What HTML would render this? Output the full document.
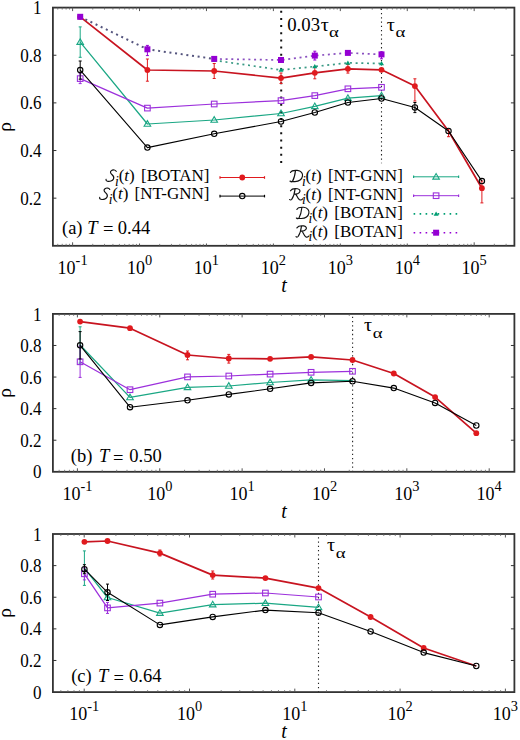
<!DOCTYPE html>
<html><head><meta charset="utf-8"><style>
html,body{margin:0;padding:0;background:#fff;overflow:hidden;}
svg{display:block;}
text{font-family:"Liberation Serif",serif;fill:#000;}
.tl{font-size:18px;}
.pl{font-size:18.5px;}
.lg{font-size:17px;}
.lsub{font-size:13.6px;}
.sup{font-size:14.4px;}
.sub{font-size:14.4px;}
.it{font-style:italic;}
.cal{font-style:italic;font-size:18px;}
.tlab{font-size:20px;font-style:italic;}
.rho{font-size:19.5px;}
.g{font-size:18px;}
.gs{font-size:14.4px;}
</style></head><body>
<svg width="520" height="740" viewBox="0 0 520 740">
<rect width="520" height="740" fill="#fff"/>
<line x1="281.2" y1="8.6" x2="281.2" y2="163.5" stroke="#111" stroke-width="2" stroke-dasharray="2,5.15" stroke-dashoffset="-2.2"/>
<line x1="381.5" y1="8.6" x2="381.5" y2="163.5" stroke="#222" stroke-width="1.1" stroke-dasharray="1.3,2.98" stroke-dashoffset="0"/>
<polyline points="80.2,16.8 147.4,70 214.2,71 281,78.1 314.8,72.8 347.9,68.8 381.5,69.8 414.9,86.1 448.5,131 481.9,188.2" fill="none" stroke="#c81420" stroke-width="1.7" stroke-linejoin="round"/>
<line x1="147.4" y1="59" x2="147.4" y2="81.2" stroke="#e01a1e" stroke-width="1"/>
<line x1="145.9" y1="59" x2="148.9" y2="59" stroke="#e01a1e" stroke-width="1"/>
<line x1="145.9" y1="81.2" x2="148.9" y2="81.2" stroke="#e01a1e" stroke-width="1"/>
<line x1="214.2" y1="63.5" x2="214.2" y2="78.5" stroke="#e01a1e" stroke-width="1"/>
<line x1="212.7" y1="63.5" x2="215.7" y2="63.5" stroke="#e01a1e" stroke-width="1"/>
<line x1="212.7" y1="78.5" x2="215.7" y2="78.5" stroke="#e01a1e" stroke-width="1"/>
<line x1="281" y1="73" x2="281" y2="83.5" stroke="#e01a1e" stroke-width="1"/>
<line x1="279.5" y1="73" x2="282.5" y2="73" stroke="#e01a1e" stroke-width="1"/>
<line x1="279.5" y1="83.5" x2="282.5" y2="83.5" stroke="#e01a1e" stroke-width="1"/>
<line x1="314.8" y1="66.8" x2="314.8" y2="78.8" stroke="#e01a1e" stroke-width="1"/>
<line x1="313.3" y1="66.8" x2="316.3" y2="66.8" stroke="#e01a1e" stroke-width="1"/>
<line x1="313.3" y1="78.8" x2="316.3" y2="78.8" stroke="#e01a1e" stroke-width="1"/>
<line x1="347.9" y1="64.5" x2="347.9" y2="73.1" stroke="#e01a1e" stroke-width="1"/>
<line x1="346.4" y1="64.5" x2="349.4" y2="64.5" stroke="#e01a1e" stroke-width="1"/>
<line x1="346.4" y1="73.1" x2="349.4" y2="73.1" stroke="#e01a1e" stroke-width="1"/>
<line x1="414.9" y1="78.8" x2="414.9" y2="101" stroke="#e01a1e" stroke-width="1"/>
<line x1="413.4" y1="78.8" x2="416.4" y2="78.8" stroke="#e01a1e" stroke-width="1"/>
<line x1="413.4" y1="101" x2="416.4" y2="101" stroke="#e01a1e" stroke-width="1"/>
<line x1="448.5" y1="129" x2="448.5" y2="136.7" stroke="#e01a1e" stroke-width="1"/>
<line x1="447.0" y1="129" x2="450.0" y2="129" stroke="#e01a1e" stroke-width="1"/>
<line x1="447.0" y1="136.7" x2="450.0" y2="136.7" stroke="#e01a1e" stroke-width="1"/>
<line x1="481.9" y1="181" x2="481.9" y2="202.9" stroke="#e01a1e" stroke-width="1"/>
<line x1="480.4" y1="181" x2="483.4" y2="181" stroke="#e01a1e" stroke-width="1"/>
<line x1="480.4" y1="202.9" x2="483.4" y2="202.9" stroke="#e01a1e" stroke-width="1"/>
<circle cx="80.2" cy="16.8" r="2.9" fill="#e01a1e"/>
<circle cx="147.4" cy="70" r="2.9" fill="#e01a1e"/>
<circle cx="214.2" cy="71" r="2.9" fill="#e01a1e"/>
<circle cx="281" cy="78.1" r="2.9" fill="#e01a1e"/>
<circle cx="314.8" cy="72.8" r="2.9" fill="#e01a1e"/>
<circle cx="347.9" cy="68.8" r="2.9" fill="#e01a1e"/>
<circle cx="381.5" cy="69.8" r="2.9" fill="#e01a1e"/>
<circle cx="414.9" cy="86.1" r="2.9" fill="#e01a1e"/>
<circle cx="481.9" cy="188.2" r="2.9" fill="#e01a1e"/>
<polyline points="80.2,42.1 147.4,124 214.2,120 281,113.5 314.8,106.3 347.9,98.1 381.5,95.6" fill="none" stroke="#1aa784" stroke-width="1.25" stroke-linejoin="round"/>
<line x1="80.2" y1="26.9" x2="80.2" y2="57.3" stroke="#1aa784" stroke-width="1"/>
<line x1="78.7" y1="26.9" x2="81.7" y2="26.9" stroke="#1aa784" stroke-width="1"/>
<line x1="78.7" y1="57.3" x2="81.7" y2="57.3" stroke="#1aa784" stroke-width="1"/>
<path d="M76.90,44.40 L83.50,44.40 L80.20,38.80 Z" fill="none" stroke="#1aa784" stroke-width="1.1"/>
<path d="M144.10,126.30 L150.70,126.30 L147.40,120.70 Z" fill="none" stroke="#1aa784" stroke-width="1.1"/>
<path d="M210.90,122.30 L217.50,122.30 L214.20,116.70 Z" fill="none" stroke="#1aa784" stroke-width="1.1"/>
<path d="M277.70,115.80 L284.30,115.80 L281.00,110.20 Z" fill="none" stroke="#1aa784" stroke-width="1.1"/>
<path d="M311.50,108.60 L318.10,108.60 L314.80,103.00 Z" fill="none" stroke="#1aa784" stroke-width="1.1"/>
<path d="M344.60,100.40 L351.20,100.40 L347.90,94.80 Z" fill="none" stroke="#1aa784" stroke-width="1.1"/>
<path d="M378.20,97.90 L384.80,97.90 L381.50,92.30 Z" fill="none" stroke="#1aa784" stroke-width="1.1"/>
<polyline points="80.2,78.6 147.4,108.1 214.2,104 281,100.6 314.8,95.6 347.9,88.8 381.5,87.3" fill="none" stroke="#9c30dc" stroke-width="1.25" stroke-linejoin="round"/>
<line x1="80.2" y1="73.6" x2="80.2" y2="83.6" stroke="#9c30dc" stroke-width="1"/>
<line x1="78.7" y1="73.6" x2="81.7" y2="73.6" stroke="#9c30dc" stroke-width="1"/>
<line x1="78.7" y1="83.6" x2="81.7" y2="83.6" stroke="#9c30dc" stroke-width="1"/>
<rect x="77.40" y="75.80" width="5.6" height="5.6" fill="none" stroke="#9c30dc" stroke-width="1.1"/>
<rect x="144.60" y="105.30" width="5.6" height="5.6" fill="none" stroke="#9c30dc" stroke-width="1.1"/>
<rect x="211.40" y="101.20" width="5.6" height="5.6" fill="none" stroke="#9c30dc" stroke-width="1.1"/>
<rect x="278.20" y="97.80" width="5.6" height="5.6" fill="none" stroke="#9c30dc" stroke-width="1.1"/>
<rect x="312.00" y="92.80" width="5.6" height="5.6" fill="none" stroke="#9c30dc" stroke-width="1.1"/>
<rect x="345.10" y="86.00" width="5.6" height="5.6" fill="none" stroke="#9c30dc" stroke-width="1.1"/>
<rect x="378.70" y="84.50" width="5.6" height="5.6" fill="none" stroke="#9c30dc" stroke-width="1.1"/>
<polyline points="80.2,70.1 147.4,147.6 214.2,133.8 281,121.5 314.8,112.5 347.9,102.5 381.5,98.5 414.9,107.5 448.5,131 481.9,181.1" fill="none" stroke="#000000" stroke-width="1.1" stroke-linejoin="round"/>
<line x1="80.2" y1="61" x2="80.2" y2="79.2" stroke="#000000" stroke-width="1"/>
<line x1="78.7" y1="61" x2="81.7" y2="61" stroke="#000000" stroke-width="1"/>
<line x1="78.7" y1="79.2" x2="81.7" y2="79.2" stroke="#000000" stroke-width="1"/>
<line x1="414.9" y1="102.5" x2="414.9" y2="112.6" stroke="#000000" stroke-width="1"/>
<line x1="413.4" y1="102.5" x2="416.4" y2="102.5" stroke="#000000" stroke-width="1"/>
<line x1="413.4" y1="112.6" x2="416.4" y2="112.6" stroke="#000000" stroke-width="1"/>
<circle cx="80.2" cy="70.1" r="2.7" fill="none" stroke="#000000" stroke-width="1.1"/>
<circle cx="147.4" cy="147.6" r="2.7" fill="none" stroke="#000000" stroke-width="1.1"/>
<circle cx="214.2" cy="133.8" r="2.7" fill="none" stroke="#000000" stroke-width="1.1"/>
<circle cx="281" cy="121.5" r="2.7" fill="none" stroke="#000000" stroke-width="1.1"/>
<circle cx="314.8" cy="112.5" r="2.7" fill="none" stroke="#000000" stroke-width="1.1"/>
<circle cx="347.9" cy="102.5" r="2.7" fill="none" stroke="#000000" stroke-width="1.1"/>
<circle cx="381.5" cy="98.5" r="2.7" fill="none" stroke="#000000" stroke-width="1.1"/>
<circle cx="414.9" cy="107.5" r="2.7" fill="none" stroke="#000000" stroke-width="1.1"/>
<circle cx="448.5" cy="131" r="2.7" fill="none" stroke="#000000" stroke-width="1.1"/>
<circle cx="481.9" cy="181.1" r="2.7" fill="none" stroke="#000000" stroke-width="1.1"/>
<polyline points="80.2,16.8 147.4,49.3 214.2,58.9" fill="none" stroke="#55557e" stroke-width="2" stroke-dasharray="2,3.7" stroke-dashoffset="0"/>
<polyline points="214.2,60.3 281,70 314.8,66.5 347.9,62.9 381.5,63.5" fill="none" stroke="#3a9a85" stroke-width="1.7" stroke-dasharray="2,3.7" stroke-dashoffset="0"/>
<polyline points="214.2,58.9 281,60 314.8,55.6 347.9,52.9 381.5,54.4" fill="none" stroke="#8a50c0" stroke-width="1.7" stroke-dasharray="2,3.7" stroke-dashoffset="0"/>
<path d="M77.70,18.60 L82.70,18.60 L80.20,14.40 Z" fill="#009e73"/>
<path d="M144.90,51.30 L149.90,51.30 L147.40,47.10 Z" fill="#009e73"/>
<path d="M211.70,62.10 L216.70,62.10 L214.20,57.90 Z" fill="#009e73"/>
<path d="M278.50,71.80 L283.50,71.80 L281.00,67.60 Z" fill="#009e73"/>
<path d="M312.30,68.30 L317.30,68.30 L314.80,64.10 Z" fill="#009e73"/>
<path d="M345.40,64.70 L350.40,64.70 L347.90,60.50 Z" fill="#009e73"/>
<path d="M379.00,65.30 L384.00,65.30 L381.50,61.10 Z" fill="#009e73"/>
<line x1="147.4" y1="45.4" x2="147.4" y2="55.6" stroke="#9400d3" stroke-width="1"/>
<line x1="145.9" y1="45.4" x2="148.9" y2="45.4" stroke="#9400d3" stroke-width="1"/>
<line x1="145.9" y1="55.6" x2="148.9" y2="55.6" stroke="#9400d3" stroke-width="1"/>
<line x1="314.8" y1="51.2" x2="314.8" y2="60" stroke="#9400d3" stroke-width="1"/>
<line x1="313.3" y1="51.2" x2="316.3" y2="51.2" stroke="#9400d3" stroke-width="1"/>
<line x1="313.3" y1="60" x2="316.3" y2="60" stroke="#9400d3" stroke-width="1"/>
<line x1="381.5" y1="51.9" x2="381.5" y2="58.8" stroke="#9400d3" stroke-width="1"/>
<line x1="380.0" y1="51.9" x2="383.0" y2="51.9" stroke="#9400d3" stroke-width="1"/>
<line x1="380.0" y1="58.8" x2="383.0" y2="58.8" stroke="#9400d3" stroke-width="1"/>
<rect x="77.20" y="13.80" width="6" height="6" fill="#9400d3"/>
<rect x="144.40" y="46.30" width="6" height="6" fill="#9400d3"/>
<rect x="211.20" y="55.90" width="6" height="6" fill="#9400d3"/>
<rect x="278.00" y="57.00" width="6" height="6" fill="#9400d3"/>
<rect x="311.80" y="52.60" width="6" height="6" fill="#9400d3"/>
<rect x="344.90" y="49.90" width="6" height="6" fill="#9400d3"/>
<rect x="378.50" y="51.40" width="6" height="6" fill="#9400d3"/>
<rect x="52.9" y="7.6" width="461.5" height="238.20000000000002" fill="none" stroke="#333" stroke-width="1.8"/>
<line x1="52.9" y1="198.16" x2="56.4" y2="198.16" stroke="#333" stroke-width="1"/>
<line x1="514.4" y1="198.16" x2="510.9" y2="198.16" stroke="#333" stroke-width="1"/>
<text transform="translate(41.60,204.76) scale(0.95,1)" class="tl" text-anchor="end">0.2</text>
<line x1="52.9" y1="150.52" x2="56.4" y2="150.52" stroke="#333" stroke-width="1"/>
<line x1="514.4" y1="150.52" x2="510.9" y2="150.52" stroke="#333" stroke-width="1"/>
<text transform="translate(41.60,157.12) scale(0.95,1)" class="tl" text-anchor="end">0.4</text>
<line x1="52.9" y1="102.88" x2="56.4" y2="102.88" stroke="#333" stroke-width="1"/>
<line x1="514.4" y1="102.88" x2="510.9" y2="102.88" stroke="#333" stroke-width="1"/>
<text transform="translate(41.60,109.48) scale(0.95,1)" class="tl" text-anchor="end">0.6</text>
<line x1="52.9" y1="55.24" x2="56.4" y2="55.24" stroke="#333" stroke-width="1"/>
<line x1="514.4" y1="55.24" x2="510.9" y2="55.24" stroke="#333" stroke-width="1"/>
<text transform="translate(41.60,61.84) scale(0.95,1)" class="tl" text-anchor="end">0.8</text>
<text transform="translate(41.60,14.20) scale(0.95,1)" class="tl" text-anchor="end">1</text>
<line x1="57.75" y1="245.8" x2="57.75" y2="243.8" stroke="#666" stroke-width="0.8"/>
<line x1="57.75" y1="7.6" x2="57.75" y2="9.6" stroke="#666" stroke-width="0.8"/>
<line x1="62.23" y1="245.8" x2="62.23" y2="243.8" stroke="#666" stroke-width="0.8"/>
<line x1="62.23" y1="7.6" x2="62.23" y2="9.6" stroke="#666" stroke-width="0.8"/>
<line x1="66.11" y1="245.8" x2="66.11" y2="243.8" stroke="#666" stroke-width="0.8"/>
<line x1="66.11" y1="7.6" x2="66.11" y2="9.6" stroke="#666" stroke-width="0.8"/>
<line x1="69.54" y1="245.8" x2="69.54" y2="243.8" stroke="#666" stroke-width="0.8"/>
<line x1="69.54" y1="7.6" x2="69.54" y2="9.6" stroke="#666" stroke-width="0.8"/>
<line x1="72.60" y1="245.8" x2="72.60" y2="242.3" stroke="#555" stroke-width="1"/>
<line x1="72.60" y1="7.6" x2="72.60" y2="11.1" stroke="#555" stroke-width="1"/>
<line x1="92.75" y1="245.8" x2="92.75" y2="243.8" stroke="#666" stroke-width="0.8"/>
<line x1="92.75" y1="7.6" x2="92.75" y2="9.6" stroke="#666" stroke-width="0.8"/>
<line x1="104.53" y1="245.8" x2="104.53" y2="243.8" stroke="#666" stroke-width="0.8"/>
<line x1="104.53" y1="7.6" x2="104.53" y2="9.6" stroke="#666" stroke-width="0.8"/>
<line x1="112.90" y1="245.8" x2="112.90" y2="243.8" stroke="#666" stroke-width="0.8"/>
<line x1="112.90" y1="7.6" x2="112.90" y2="9.6" stroke="#666" stroke-width="0.8"/>
<line x1="119.38" y1="245.8" x2="119.38" y2="243.8" stroke="#666" stroke-width="0.8"/>
<line x1="119.38" y1="7.6" x2="119.38" y2="9.6" stroke="#666" stroke-width="0.8"/>
<line x1="124.68" y1="245.8" x2="124.68" y2="243.8" stroke="#666" stroke-width="0.8"/>
<line x1="124.68" y1="7.6" x2="124.68" y2="9.6" stroke="#666" stroke-width="0.8"/>
<line x1="129.16" y1="245.8" x2="129.16" y2="243.8" stroke="#666" stroke-width="0.8"/>
<line x1="129.16" y1="7.6" x2="129.16" y2="9.6" stroke="#666" stroke-width="0.8"/>
<line x1="133.04" y1="245.8" x2="133.04" y2="243.8" stroke="#666" stroke-width="0.8"/>
<line x1="133.04" y1="7.6" x2="133.04" y2="9.6" stroke="#666" stroke-width="0.8"/>
<line x1="136.47" y1="245.8" x2="136.47" y2="243.8" stroke="#666" stroke-width="0.8"/>
<line x1="136.47" y1="7.6" x2="136.47" y2="9.6" stroke="#666" stroke-width="0.8"/>
<line x1="139.53" y1="245.8" x2="139.53" y2="242.3" stroke="#555" stroke-width="1"/>
<line x1="139.53" y1="7.6" x2="139.53" y2="11.1" stroke="#555" stroke-width="1"/>
<line x1="159.68" y1="245.8" x2="159.68" y2="243.8" stroke="#666" stroke-width="0.8"/>
<line x1="159.68" y1="7.6" x2="159.68" y2="9.6" stroke="#666" stroke-width="0.8"/>
<line x1="171.46" y1="245.8" x2="171.46" y2="243.8" stroke="#666" stroke-width="0.8"/>
<line x1="171.46" y1="7.6" x2="171.46" y2="9.6" stroke="#666" stroke-width="0.8"/>
<line x1="179.83" y1="245.8" x2="179.83" y2="243.8" stroke="#666" stroke-width="0.8"/>
<line x1="179.83" y1="7.6" x2="179.83" y2="9.6" stroke="#666" stroke-width="0.8"/>
<line x1="186.31" y1="245.8" x2="186.31" y2="243.8" stroke="#666" stroke-width="0.8"/>
<line x1="186.31" y1="7.6" x2="186.31" y2="9.6" stroke="#666" stroke-width="0.8"/>
<line x1="191.61" y1="245.8" x2="191.61" y2="243.8" stroke="#666" stroke-width="0.8"/>
<line x1="191.61" y1="7.6" x2="191.61" y2="9.6" stroke="#666" stroke-width="0.8"/>
<line x1="196.09" y1="245.8" x2="196.09" y2="243.8" stroke="#666" stroke-width="0.8"/>
<line x1="196.09" y1="7.6" x2="196.09" y2="9.6" stroke="#666" stroke-width="0.8"/>
<line x1="199.97" y1="245.8" x2="199.97" y2="243.8" stroke="#666" stroke-width="0.8"/>
<line x1="199.97" y1="7.6" x2="199.97" y2="9.6" stroke="#666" stroke-width="0.8"/>
<line x1="203.40" y1="245.8" x2="203.40" y2="243.8" stroke="#666" stroke-width="0.8"/>
<line x1="203.40" y1="7.6" x2="203.40" y2="9.6" stroke="#666" stroke-width="0.8"/>
<line x1="206.46" y1="245.8" x2="206.46" y2="242.3" stroke="#555" stroke-width="1"/>
<line x1="206.46" y1="7.6" x2="206.46" y2="11.1" stroke="#555" stroke-width="1"/>
<line x1="226.61" y1="245.8" x2="226.61" y2="243.8" stroke="#666" stroke-width="0.8"/>
<line x1="226.61" y1="7.6" x2="226.61" y2="9.6" stroke="#666" stroke-width="0.8"/>
<line x1="238.39" y1="245.8" x2="238.39" y2="243.8" stroke="#666" stroke-width="0.8"/>
<line x1="238.39" y1="7.6" x2="238.39" y2="9.6" stroke="#666" stroke-width="0.8"/>
<line x1="246.76" y1="245.8" x2="246.76" y2="243.8" stroke="#666" stroke-width="0.8"/>
<line x1="246.76" y1="7.6" x2="246.76" y2="9.6" stroke="#666" stroke-width="0.8"/>
<line x1="253.24" y1="245.8" x2="253.24" y2="243.8" stroke="#666" stroke-width="0.8"/>
<line x1="253.24" y1="7.6" x2="253.24" y2="9.6" stroke="#666" stroke-width="0.8"/>
<line x1="258.54" y1="245.8" x2="258.54" y2="243.8" stroke="#666" stroke-width="0.8"/>
<line x1="258.54" y1="7.6" x2="258.54" y2="9.6" stroke="#666" stroke-width="0.8"/>
<line x1="263.02" y1="245.8" x2="263.02" y2="243.8" stroke="#666" stroke-width="0.8"/>
<line x1="263.02" y1="7.6" x2="263.02" y2="9.6" stroke="#666" stroke-width="0.8"/>
<line x1="266.90" y1="245.8" x2="266.90" y2="243.8" stroke="#666" stroke-width="0.8"/>
<line x1="266.90" y1="7.6" x2="266.90" y2="9.6" stroke="#666" stroke-width="0.8"/>
<line x1="270.33" y1="245.8" x2="270.33" y2="243.8" stroke="#666" stroke-width="0.8"/>
<line x1="270.33" y1="7.6" x2="270.33" y2="9.6" stroke="#666" stroke-width="0.8"/>
<line x1="273.39" y1="245.8" x2="273.39" y2="242.3" stroke="#555" stroke-width="1"/>
<line x1="273.39" y1="7.6" x2="273.39" y2="11.1" stroke="#555" stroke-width="1"/>
<line x1="293.54" y1="245.8" x2="293.54" y2="243.8" stroke="#666" stroke-width="0.8"/>
<line x1="293.54" y1="7.6" x2="293.54" y2="9.6" stroke="#666" stroke-width="0.8"/>
<line x1="305.32" y1="245.8" x2="305.32" y2="243.8" stroke="#666" stroke-width="0.8"/>
<line x1="305.32" y1="7.6" x2="305.32" y2="9.6" stroke="#666" stroke-width="0.8"/>
<line x1="313.69" y1="245.8" x2="313.69" y2="243.8" stroke="#666" stroke-width="0.8"/>
<line x1="313.69" y1="7.6" x2="313.69" y2="9.6" stroke="#666" stroke-width="0.8"/>
<line x1="320.17" y1="245.8" x2="320.17" y2="243.8" stroke="#666" stroke-width="0.8"/>
<line x1="320.17" y1="7.6" x2="320.17" y2="9.6" stroke="#666" stroke-width="0.8"/>
<line x1="325.47" y1="245.8" x2="325.47" y2="243.8" stroke="#666" stroke-width="0.8"/>
<line x1="325.47" y1="7.6" x2="325.47" y2="9.6" stroke="#666" stroke-width="0.8"/>
<line x1="329.95" y1="245.8" x2="329.95" y2="243.8" stroke="#666" stroke-width="0.8"/>
<line x1="329.95" y1="7.6" x2="329.95" y2="9.6" stroke="#666" stroke-width="0.8"/>
<line x1="333.83" y1="245.8" x2="333.83" y2="243.8" stroke="#666" stroke-width="0.8"/>
<line x1="333.83" y1="7.6" x2="333.83" y2="9.6" stroke="#666" stroke-width="0.8"/>
<line x1="337.26" y1="245.8" x2="337.26" y2="243.8" stroke="#666" stroke-width="0.8"/>
<line x1="337.26" y1="7.6" x2="337.26" y2="9.6" stroke="#666" stroke-width="0.8"/>
<line x1="340.32" y1="245.8" x2="340.32" y2="242.3" stroke="#555" stroke-width="1"/>
<line x1="340.32" y1="7.6" x2="340.32" y2="11.1" stroke="#555" stroke-width="1"/>
<line x1="360.47" y1="245.8" x2="360.47" y2="243.8" stroke="#666" stroke-width="0.8"/>
<line x1="360.47" y1="7.6" x2="360.47" y2="9.6" stroke="#666" stroke-width="0.8"/>
<line x1="372.25" y1="245.8" x2="372.25" y2="243.8" stroke="#666" stroke-width="0.8"/>
<line x1="372.25" y1="7.6" x2="372.25" y2="9.6" stroke="#666" stroke-width="0.8"/>
<line x1="380.62" y1="245.8" x2="380.62" y2="243.8" stroke="#666" stroke-width="0.8"/>
<line x1="380.62" y1="7.6" x2="380.62" y2="9.6" stroke="#666" stroke-width="0.8"/>
<line x1="387.10" y1="245.8" x2="387.10" y2="243.8" stroke="#666" stroke-width="0.8"/>
<line x1="387.10" y1="7.6" x2="387.10" y2="9.6" stroke="#666" stroke-width="0.8"/>
<line x1="392.40" y1="245.8" x2="392.40" y2="243.8" stroke="#666" stroke-width="0.8"/>
<line x1="392.40" y1="7.6" x2="392.40" y2="9.6" stroke="#666" stroke-width="0.8"/>
<line x1="396.88" y1="245.8" x2="396.88" y2="243.8" stroke="#666" stroke-width="0.8"/>
<line x1="396.88" y1="7.6" x2="396.88" y2="9.6" stroke="#666" stroke-width="0.8"/>
<line x1="400.76" y1="245.8" x2="400.76" y2="243.8" stroke="#666" stroke-width="0.8"/>
<line x1="400.76" y1="7.6" x2="400.76" y2="9.6" stroke="#666" stroke-width="0.8"/>
<line x1="404.19" y1="245.8" x2="404.19" y2="243.8" stroke="#666" stroke-width="0.8"/>
<line x1="404.19" y1="7.6" x2="404.19" y2="9.6" stroke="#666" stroke-width="0.8"/>
<line x1="407.25" y1="245.8" x2="407.25" y2="242.3" stroke="#555" stroke-width="1"/>
<line x1="407.25" y1="7.6" x2="407.25" y2="11.1" stroke="#555" stroke-width="1"/>
<line x1="427.40" y1="245.8" x2="427.40" y2="243.8" stroke="#666" stroke-width="0.8"/>
<line x1="427.40" y1="7.6" x2="427.40" y2="9.6" stroke="#666" stroke-width="0.8"/>
<line x1="439.18" y1="245.8" x2="439.18" y2="243.8" stroke="#666" stroke-width="0.8"/>
<line x1="439.18" y1="7.6" x2="439.18" y2="9.6" stroke="#666" stroke-width="0.8"/>
<line x1="447.55" y1="245.8" x2="447.55" y2="243.8" stroke="#666" stroke-width="0.8"/>
<line x1="447.55" y1="7.6" x2="447.55" y2="9.6" stroke="#666" stroke-width="0.8"/>
<line x1="454.03" y1="245.8" x2="454.03" y2="243.8" stroke="#666" stroke-width="0.8"/>
<line x1="454.03" y1="7.6" x2="454.03" y2="9.6" stroke="#666" stroke-width="0.8"/>
<line x1="459.33" y1="245.8" x2="459.33" y2="243.8" stroke="#666" stroke-width="0.8"/>
<line x1="459.33" y1="7.6" x2="459.33" y2="9.6" stroke="#666" stroke-width="0.8"/>
<line x1="463.81" y1="245.8" x2="463.81" y2="243.8" stroke="#666" stroke-width="0.8"/>
<line x1="463.81" y1="7.6" x2="463.81" y2="9.6" stroke="#666" stroke-width="0.8"/>
<line x1="467.69" y1="245.8" x2="467.69" y2="243.8" stroke="#666" stroke-width="0.8"/>
<line x1="467.69" y1="7.6" x2="467.69" y2="9.6" stroke="#666" stroke-width="0.8"/>
<line x1="471.12" y1="245.8" x2="471.12" y2="243.8" stroke="#666" stroke-width="0.8"/>
<line x1="471.12" y1="7.6" x2="471.12" y2="9.6" stroke="#666" stroke-width="0.8"/>
<line x1="474.18" y1="245.8" x2="474.18" y2="242.3" stroke="#555" stroke-width="1"/>
<line x1="474.18" y1="7.6" x2="474.18" y2="11.1" stroke="#555" stroke-width="1"/>
<line x1="494.33" y1="245.8" x2="494.33" y2="243.8" stroke="#666" stroke-width="0.8"/>
<line x1="494.33" y1="7.6" x2="494.33" y2="9.6" stroke="#666" stroke-width="0.8"/>
<line x1="506.11" y1="245.8" x2="506.11" y2="243.8" stroke="#666" stroke-width="0.8"/>
<line x1="506.11" y1="7.6" x2="506.11" y2="9.6" stroke="#666" stroke-width="0.8"/>
<text x="72.60" y="273.8" class="tl" text-anchor="middle">10<tspan class="sup" dy="-9.3">-1</tspan></text>
<text x="139.53" y="273.8" class="tl" text-anchor="middle">10<tspan class="sup" dy="-9.3">0</tspan></text>
<text x="206.46" y="273.8" class="tl" text-anchor="middle">10<tspan class="sup" dy="-9.3">1</tspan></text>
<text x="273.39" y="273.8" class="tl" text-anchor="middle">10<tspan class="sup" dy="-9.3">2</tspan></text>
<text x="340.32" y="273.8" class="tl" text-anchor="middle">10<tspan class="sup" dy="-9.3">3</tspan></text>
<text x="407.25" y="273.8" class="tl" text-anchor="middle">10<tspan class="sup" dy="-9.3">4</tspan></text>
<text x="474.18" y="273.8" class="tl" text-anchor="middle">10<tspan class="sup" dy="-9.3">5</tspan></text>
<text x="287.2" y="30.6" class="tl" style="font-size:18.8px">0.03</text>
<text transform="translate(320.70,30.60) scale(1.12,1)" class="g">τ</text>
<text transform="translate(328.90,37.00) scale(1.3,1)" class="gs">α</text>
<text transform="translate(386.70,30.80) scale(1.12,1)" class="g">τ</text>
<text transform="translate(395.50,37.20) scale(1.3,1)" class="gs">α</text>
<text x="281.3" y="292" class="tlab">t</text>
<text transform="translate(11.3,127) rotate(-90)" class="rho" text-anchor="middle">ρ</text>
<rect x="93" y="163.5" width="371" height="80" fill="#fff"/>
<text x="209.5" y="181.3" class="lg" text-anchor="end">(<tspan class="it">t</tspan>)<tspan dx="2"> [BOTAN]</tspan></text>
<text x="115.09" y="185.8" class="lsub it">i</text>
<path transform="translate(105.59,181.60000000000002)" d="M10.6,-10.2 C10.2,-11.6 7.4,-12.2 5.8,-11 C4.3,-9.9 4.8,-8.3 6.3,-7.1 C7.9,-5.8 8.7,-4.3 7.9,-2.6 C7,-0.7 4,0.2 1.8,-0.4 C0.7,-0.7 0.2,-1.4 0.5,-2.3" fill="none" stroke="#111" stroke-width="1.15" stroke-linecap="round"/>
<line x1="220" y1="177.5" x2="264.5" y2="177.5" stroke="#e01a1e" stroke-width="1.0"/>
<line x1="220" y1="176.2" x2="220" y2="178.8" stroke="#e01a1e" stroke-width="1.2"/>
<line x1="264.5" y1="176.2" x2="264.5" y2="178.8" stroke="#e01a1e" stroke-width="1.2"/>
<circle cx="242.25" cy="177.5" r="2.9" fill="#e01a1e"/>
<text x="209.5" y="199.4" class="lg" text-anchor="end">(<tspan class="it">t</tspan>)<tspan dx="2"> [NT-GNN]</tspan></text>
<text x="108.69" y="203.9" class="lsub it">i</text>
<path transform="translate(99.19,199.70000000000002)" d="M10.6,-10.2 C10.2,-11.6 7.4,-12.2 5.8,-11 C4.3,-9.9 4.8,-8.3 6.3,-7.1 C7.9,-5.8 8.7,-4.3 7.9,-2.6 C7,-0.7 4,0.2 1.8,-0.4 C0.7,-0.7 0.2,-1.4 0.5,-2.3" fill="none" stroke="#111" stroke-width="1.15" stroke-linecap="round"/>
<line x1="220" y1="196.1" x2="264.5" y2="196.1" stroke="#000000" stroke-width="1.0"/>
<line x1="220" y1="194.79999999999998" x2="220" y2="197.4" stroke="#000000" stroke-width="1.2"/>
<line x1="264.5" y1="194.79999999999998" x2="264.5" y2="197.4" stroke="#000000" stroke-width="1.2"/>
<circle cx="242.25" cy="196.1" r="2.7" fill="none" stroke="#000000" stroke-width="1.1"/>
<text x="402.8" y="181.4" class="lg" text-anchor="end">(<tspan class="it">t</tspan>)<tspan dx="2"> [NT-GNN]</tspan></text>
<text x="301.99" y="185.9" class="lsub it">i</text>
<path transform="translate(289.69,181.70000000000002)" d="M0.8,-9.2 C1.6,-11 4.5,-11.5 7.5,-11.3 C11.5,-11 13.3,-8.3 12.8,-5.5 C12.2,-2.3 9.2,-0.2 5.2,-0.1 C3.5,0 1.6,-0.1 0.3,-0.6 M5.8,-11.1 C5.4,-7.5 4.6,-3.5 2.8,-0.4 C2.2,0.3 1.2,0.2 0.5,-0.3" fill="none" stroke="#111" stroke-width="1.15" stroke-linecap="round"/>
<line x1="413.6" y1="176.8" x2="458.6" y2="176.8" stroke="#1aa784" stroke-width="1.0"/>
<line x1="413.6" y1="175.5" x2="413.6" y2="178.10000000000002" stroke="#1aa784" stroke-width="1.2"/>
<line x1="458.6" y1="175.5" x2="458.6" y2="178.10000000000002" stroke="#1aa784" stroke-width="1.2"/>
<path d="M432.80,179.10 L439.40,179.10 L436.10,173.50 Z" fill="none" stroke="#1aa784" stroke-width="1.1"/>
<text x="402.8" y="199.7" class="lg" text-anchor="end">(<tspan class="it">t</tspan>)<tspan dx="2"> [NT-GNN]</tspan></text>
<text x="301.99" y="204.2" class="lsub it">i</text>
<path transform="translate(289.29,200.0)" d="M1.2,-9.2 C2.3,-11 5.5,-11.6 8.2,-11.2 C10.8,-10.8 11.3,-8.8 10,-7.4 C8.8,-6.1 6.8,-5.8 5,-6 M5.8,-11.1 C5.4,-7.5 4.4,-3.5 2.4,-0.6 C1.8,0.2 0.8,0.1 0.3,-0.5 M6.3,-6 C7.6,-4.5 8.3,-1.5 10,-0.4 C11.2,0.3 12.6,-0.2 13.4,-1.2" fill="none" stroke="#111" stroke-width="1.15" stroke-linecap="round"/>
<line x1="413.6" y1="195.7" x2="458.6" y2="195.7" stroke="#9c30dc" stroke-width="1.0"/>
<line x1="413.6" y1="194.39999999999998" x2="413.6" y2="197.0" stroke="#9c30dc" stroke-width="1.2"/>
<line x1="458.6" y1="194.39999999999998" x2="458.6" y2="197.0" stroke="#9c30dc" stroke-width="1.2"/>
<rect x="433.30" y="192.90" width="5.6" height="5.6" fill="none" stroke="#9c30dc" stroke-width="1.1"/>
<text x="402.8" y="218.3" class="lg" text-anchor="end">(<tspan class="it">t</tspan>)<tspan dx="2"> [BOTAN]</tspan></text>
<text x="308.39" y="222.8" class="lsub it">i</text>
<path transform="translate(296.09,218.60000000000002)" d="M0.8,-9.2 C1.6,-11 4.5,-11.5 7.5,-11.3 C11.5,-11 13.3,-8.3 12.8,-5.5 C12.2,-2.3 9.2,-0.2 5.2,-0.1 C3.5,0 1.6,-0.1 0.3,-0.6 M5.8,-11.1 C5.4,-7.5 4.6,-3.5 2.8,-0.4 C2.2,0.3 1.2,0.2 0.5,-0.3" fill="none" stroke="#111" stroke-width="1.15" stroke-linecap="round"/>
<line x1="413.6" y1="213.9" x2="458.6" y2="213.9" stroke="#009e73" stroke-width="1.6" stroke-dasharray="1.6,4.4"/>
<path d="M433.60,215.70 L438.60,215.70 L436.10,211.50 Z" fill="#009e73"/>
<text x="402.8" y="236.8" class="lg" text-anchor="end">(<tspan class="it">t</tspan>)<tspan dx="2"> [BOTAN]</tspan></text>
<text x="308.39" y="241.3" class="lsub it">i</text>
<path transform="translate(295.69,237.10000000000002)" d="M1.2,-9.2 C2.3,-11 5.5,-11.6 8.2,-11.2 C10.8,-10.8 11.3,-8.8 10,-7.4 C8.8,-6.1 6.8,-5.8 5,-6 M5.8,-11.1 C5.4,-7.5 4.4,-3.5 2.4,-0.6 C1.8,0.2 0.8,0.1 0.3,-0.5 M6.3,-6 C7.6,-4.5 8.3,-1.5 10,-0.4 C11.2,0.3 12.6,-0.2 13.4,-1.2" fill="none" stroke="#111" stroke-width="1.15" stroke-linecap="round"/>
<line x1="413.6" y1="232.7" x2="458.6" y2="232.7" stroke="#9400d3" stroke-width="1.6" stroke-dasharray="1.6,4.4"/>
<rect x="433.10" y="229.70" width="6" height="6" fill="#9400d3"/>
<text x="62" y="233.5" class="pl">(a)</text>
<text x="87.2" y="233.9" class="pl it">T</text>
<text x="103.1" y="235.3" class="pl">=</text>
<text x="117.8" y="233.5" class="pl">0.44</text>
<line x1="352.6" y1="314.9" x2="352.6" y2="471.8" stroke="#222" stroke-width="1.1" stroke-dasharray="1.3,2.98" stroke-dashoffset="-1.85"/>
<polyline points="80.1,321.6 130,328.2 187.5,355 228.8,358.5 270.1,358.8 311.1,356.9 352.5,360 393.8,373.5 435.1,397.1 476.3,433.2" fill="none" stroke="#c81420" stroke-width="1.7" stroke-linejoin="round"/>
<line x1="187.5" y1="351" x2="187.5" y2="359.8" stroke="#e01a1e" stroke-width="1"/>
<line x1="186.0" y1="351" x2="189.0" y2="351" stroke="#e01a1e" stroke-width="1"/>
<line x1="186.0" y1="359.8" x2="189.0" y2="359.8" stroke="#e01a1e" stroke-width="1"/>
<line x1="228.8" y1="354.4" x2="228.8" y2="363.1" stroke="#e01a1e" stroke-width="1"/>
<line x1="227.3" y1="354.4" x2="230.3" y2="354.4" stroke="#e01a1e" stroke-width="1"/>
<line x1="227.3" y1="363.1" x2="230.3" y2="363.1" stroke="#e01a1e" stroke-width="1"/>
<circle cx="80.1" cy="321.6" r="2.9" fill="#e01a1e"/>
<circle cx="130" cy="328.2" r="2.9" fill="#e01a1e"/>
<circle cx="187.5" cy="355" r="2.9" fill="#e01a1e"/>
<circle cx="228.8" cy="358.5" r="2.9" fill="#e01a1e"/>
<circle cx="270.1" cy="358.8" r="2.9" fill="#e01a1e"/>
<circle cx="311.1" cy="356.9" r="2.9" fill="#e01a1e"/>
<circle cx="352.5" cy="360" r="2.9" fill="#e01a1e"/>
<circle cx="393.8" cy="373.5" r="2.9" fill="#e01a1e"/>
<circle cx="435.1" cy="397.1" r="2.9" fill="#e01a1e"/>
<circle cx="476.3" cy="433.2" r="2.9" fill="#e01a1e"/>
<polyline points="80.1,345 130,397.4 187.5,387.3 228.8,386 270.1,382.5 311.1,379.8 352.5,380.6" fill="none" stroke="#1aa784" stroke-width="1.25" stroke-linejoin="round"/>
<line x1="80.1" y1="326.8" x2="80.1" y2="363.2" stroke="#1aa784" stroke-width="1"/>
<line x1="78.6" y1="326.8" x2="81.6" y2="326.8" stroke="#1aa784" stroke-width="1"/>
<line x1="78.6" y1="363.2" x2="81.6" y2="363.2" stroke="#1aa784" stroke-width="1"/>
<path d="M126.70,399.70 L133.30,399.70 L130.00,394.10 Z" fill="none" stroke="#1aa784" stroke-width="1.1"/>
<path d="M184.20,389.60 L190.80,389.60 L187.50,384.00 Z" fill="none" stroke="#1aa784" stroke-width="1.1"/>
<path d="M225.50,388.30 L232.10,388.30 L228.80,382.70 Z" fill="none" stroke="#1aa784" stroke-width="1.1"/>
<path d="M266.80,384.80 L273.40,384.80 L270.10,379.20 Z" fill="none" stroke="#1aa784" stroke-width="1.1"/>
<path d="M307.80,382.10 L314.40,382.10 L311.10,376.50 Z" fill="none" stroke="#1aa784" stroke-width="1.1"/>
<polyline points="80.1,361.8 130,389.7 187.5,376.9 228.8,376 270.1,374.1 311.1,372.3 352.5,371.3" fill="none" stroke="#9c30dc" stroke-width="1.25" stroke-linejoin="round"/>
<line x1="80.1" y1="346.2" x2="80.1" y2="377.4" stroke="#9c30dc" stroke-width="1"/>
<line x1="78.6" y1="346.2" x2="81.6" y2="346.2" stroke="#9c30dc" stroke-width="1"/>
<line x1="78.6" y1="377.4" x2="81.6" y2="377.4" stroke="#9c30dc" stroke-width="1"/>
<rect x="77.30" y="359.00" width="5.6" height="5.6" fill="none" stroke="#9c30dc" stroke-width="1.1"/>
<rect x="127.20" y="386.90" width="5.6" height="5.6" fill="none" stroke="#9c30dc" stroke-width="1.1"/>
<rect x="184.70" y="374.10" width="5.6" height="5.6" fill="none" stroke="#9c30dc" stroke-width="1.1"/>
<rect x="226.00" y="373.20" width="5.6" height="5.6" fill="none" stroke="#9c30dc" stroke-width="1.1"/>
<rect x="267.30" y="371.30" width="5.6" height="5.6" fill="none" stroke="#9c30dc" stroke-width="1.1"/>
<rect x="308.30" y="369.50" width="5.6" height="5.6" fill="none" stroke="#9c30dc" stroke-width="1.1"/>
<rect x="349.70" y="368.50" width="5.6" height="5.6" fill="none" stroke="#9c30dc" stroke-width="1.1"/>
<polyline points="80.1,345.3 130,407.2 187.5,400.3 228.8,394.4 270.1,388.8 311.1,382.9 352.5,381.3 393.8,388.1 435.1,402.9 476.3,425.5" fill="none" stroke="#000000" stroke-width="1.1" stroke-linejoin="round"/>
<line x1="80.1" y1="331.6" x2="80.1" y2="359" stroke="#000000" stroke-width="1"/>
<line x1="78.6" y1="331.6" x2="81.6" y2="331.6" stroke="#000000" stroke-width="1"/>
<line x1="78.6" y1="359" x2="81.6" y2="359" stroke="#000000" stroke-width="1"/>
<circle cx="80.1" cy="345.3" r="2.7" fill="none" stroke="#000000" stroke-width="1.1"/>
<circle cx="130" cy="407.2" r="2.7" fill="none" stroke="#000000" stroke-width="1.1"/>
<circle cx="187.5" cy="400.3" r="2.7" fill="none" stroke="#000000" stroke-width="1.1"/>
<circle cx="228.8" cy="394.4" r="2.7" fill="none" stroke="#000000" stroke-width="1.1"/>
<circle cx="270.1" cy="388.8" r="2.7" fill="none" stroke="#000000" stroke-width="1.1"/>
<circle cx="311.1" cy="382.9" r="2.7" fill="none" stroke="#000000" stroke-width="1.1"/>
<circle cx="352.5" cy="381.3" r="2.7" fill="none" stroke="#000000" stroke-width="1.1"/>
<circle cx="393.8" cy="388.1" r="2.7" fill="none" stroke="#000000" stroke-width="1.1"/>
<circle cx="435.1" cy="402.9" r="2.7" fill="none" stroke="#000000" stroke-width="1.1"/>
<circle cx="476.3" cy="425.5" r="2.7" fill="none" stroke="#000000" stroke-width="1.1"/>
<rect x="52.9" y="313.9" width="461.5" height="157.90000000000003" fill="none" stroke="#333" stroke-width="1.8"/>
<text transform="translate(41.60,478.40) scale(0.95,1)" class="tl" text-anchor="end">0</text>
<line x1="52.9" y1="440.22" x2="56.4" y2="440.22" stroke="#333" stroke-width="1"/>
<line x1="514.4" y1="440.22" x2="510.9" y2="440.22" stroke="#333" stroke-width="1"/>
<text transform="translate(41.60,446.82) scale(0.95,1)" class="tl" text-anchor="end">0.2</text>
<line x1="52.9" y1="408.64" x2="56.4" y2="408.64" stroke="#333" stroke-width="1"/>
<line x1="514.4" y1="408.64" x2="510.9" y2="408.64" stroke="#333" stroke-width="1"/>
<text transform="translate(41.60,415.24) scale(0.95,1)" class="tl" text-anchor="end">0.4</text>
<line x1="52.9" y1="377.06" x2="56.4" y2="377.06" stroke="#333" stroke-width="1"/>
<line x1="514.4" y1="377.06" x2="510.9" y2="377.06" stroke="#333" stroke-width="1"/>
<text transform="translate(41.60,383.66) scale(0.95,1)" class="tl" text-anchor="end">0.6</text>
<line x1="52.9" y1="345.48" x2="56.4" y2="345.48" stroke="#333" stroke-width="1"/>
<line x1="514.4" y1="345.48" x2="510.9" y2="345.48" stroke="#333" stroke-width="1"/>
<text transform="translate(41.60,352.08) scale(0.95,1)" class="tl" text-anchor="end">0.8</text>
<text transform="translate(41.60,320.50) scale(0.95,1)" class="tl" text-anchor="end">1</text>
<line x1="59.13" y1="471.8" x2="59.13" y2="469.8" stroke="#666" stroke-width="0.8"/>
<line x1="59.13" y1="313.9" x2="59.13" y2="315.9" stroke="#666" stroke-width="0.8"/>
<line x1="64.64" y1="471.8" x2="64.64" y2="469.8" stroke="#666" stroke-width="0.8"/>
<line x1="64.64" y1="313.9" x2="64.64" y2="315.9" stroke="#666" stroke-width="0.8"/>
<line x1="69.42" y1="471.8" x2="69.42" y2="469.8" stroke="#666" stroke-width="0.8"/>
<line x1="69.42" y1="313.9" x2="69.42" y2="315.9" stroke="#666" stroke-width="0.8"/>
<line x1="73.63" y1="471.8" x2="73.63" y2="469.8" stroke="#666" stroke-width="0.8"/>
<line x1="73.63" y1="313.9" x2="73.63" y2="315.9" stroke="#666" stroke-width="0.8"/>
<line x1="77.40" y1="471.8" x2="77.40" y2="468.3" stroke="#555" stroke-width="1"/>
<line x1="77.40" y1="313.9" x2="77.40" y2="317.4" stroke="#555" stroke-width="1"/>
<line x1="102.19" y1="471.8" x2="102.19" y2="469.8" stroke="#666" stroke-width="0.8"/>
<line x1="102.19" y1="313.9" x2="102.19" y2="315.9" stroke="#666" stroke-width="0.8"/>
<line x1="116.70" y1="471.8" x2="116.70" y2="469.8" stroke="#666" stroke-width="0.8"/>
<line x1="116.70" y1="313.9" x2="116.70" y2="315.9" stroke="#666" stroke-width="0.8"/>
<line x1="126.99" y1="471.8" x2="126.99" y2="469.8" stroke="#666" stroke-width="0.8"/>
<line x1="126.99" y1="313.9" x2="126.99" y2="315.9" stroke="#666" stroke-width="0.8"/>
<line x1="134.97" y1="471.8" x2="134.97" y2="469.8" stroke="#666" stroke-width="0.8"/>
<line x1="134.97" y1="313.9" x2="134.97" y2="315.9" stroke="#666" stroke-width="0.8"/>
<line x1="141.49" y1="471.8" x2="141.49" y2="469.8" stroke="#666" stroke-width="0.8"/>
<line x1="141.49" y1="313.9" x2="141.49" y2="315.9" stroke="#666" stroke-width="0.8"/>
<line x1="147.00" y1="471.8" x2="147.00" y2="469.8" stroke="#666" stroke-width="0.8"/>
<line x1="147.00" y1="313.9" x2="147.00" y2="315.9" stroke="#666" stroke-width="0.8"/>
<line x1="151.78" y1="471.8" x2="151.78" y2="469.8" stroke="#666" stroke-width="0.8"/>
<line x1="151.78" y1="313.9" x2="151.78" y2="315.9" stroke="#666" stroke-width="0.8"/>
<line x1="155.99" y1="471.8" x2="155.99" y2="469.8" stroke="#666" stroke-width="0.8"/>
<line x1="155.99" y1="313.9" x2="155.99" y2="315.9" stroke="#666" stroke-width="0.8"/>
<line x1="159.76" y1="471.8" x2="159.76" y2="468.3" stroke="#555" stroke-width="1"/>
<line x1="159.76" y1="313.9" x2="159.76" y2="317.4" stroke="#555" stroke-width="1"/>
<line x1="184.55" y1="471.8" x2="184.55" y2="469.8" stroke="#666" stroke-width="0.8"/>
<line x1="184.55" y1="313.9" x2="184.55" y2="315.9" stroke="#666" stroke-width="0.8"/>
<line x1="199.06" y1="471.8" x2="199.06" y2="469.8" stroke="#666" stroke-width="0.8"/>
<line x1="199.06" y1="313.9" x2="199.06" y2="315.9" stroke="#666" stroke-width="0.8"/>
<line x1="209.35" y1="471.8" x2="209.35" y2="469.8" stroke="#666" stroke-width="0.8"/>
<line x1="209.35" y1="313.9" x2="209.35" y2="315.9" stroke="#666" stroke-width="0.8"/>
<line x1="217.33" y1="471.8" x2="217.33" y2="469.8" stroke="#666" stroke-width="0.8"/>
<line x1="217.33" y1="313.9" x2="217.33" y2="315.9" stroke="#666" stroke-width="0.8"/>
<line x1="223.85" y1="471.8" x2="223.85" y2="469.8" stroke="#666" stroke-width="0.8"/>
<line x1="223.85" y1="313.9" x2="223.85" y2="315.9" stroke="#666" stroke-width="0.8"/>
<line x1="229.36" y1="471.8" x2="229.36" y2="469.8" stroke="#666" stroke-width="0.8"/>
<line x1="229.36" y1="313.9" x2="229.36" y2="315.9" stroke="#666" stroke-width="0.8"/>
<line x1="234.14" y1="471.8" x2="234.14" y2="469.8" stroke="#666" stroke-width="0.8"/>
<line x1="234.14" y1="313.9" x2="234.14" y2="315.9" stroke="#666" stroke-width="0.8"/>
<line x1="238.35" y1="471.8" x2="238.35" y2="469.8" stroke="#666" stroke-width="0.8"/>
<line x1="238.35" y1="313.9" x2="238.35" y2="315.9" stroke="#666" stroke-width="0.8"/>
<line x1="242.12" y1="471.8" x2="242.12" y2="468.3" stroke="#555" stroke-width="1"/>
<line x1="242.12" y1="313.9" x2="242.12" y2="317.4" stroke="#555" stroke-width="1"/>
<line x1="266.91" y1="471.8" x2="266.91" y2="469.8" stroke="#666" stroke-width="0.8"/>
<line x1="266.91" y1="313.9" x2="266.91" y2="315.9" stroke="#666" stroke-width="0.8"/>
<line x1="281.42" y1="471.8" x2="281.42" y2="469.8" stroke="#666" stroke-width="0.8"/>
<line x1="281.42" y1="313.9" x2="281.42" y2="315.9" stroke="#666" stroke-width="0.8"/>
<line x1="291.71" y1="471.8" x2="291.71" y2="469.8" stroke="#666" stroke-width="0.8"/>
<line x1="291.71" y1="313.9" x2="291.71" y2="315.9" stroke="#666" stroke-width="0.8"/>
<line x1="299.69" y1="471.8" x2="299.69" y2="469.8" stroke="#666" stroke-width="0.8"/>
<line x1="299.69" y1="313.9" x2="299.69" y2="315.9" stroke="#666" stroke-width="0.8"/>
<line x1="306.21" y1="471.8" x2="306.21" y2="469.8" stroke="#666" stroke-width="0.8"/>
<line x1="306.21" y1="313.9" x2="306.21" y2="315.9" stroke="#666" stroke-width="0.8"/>
<line x1="311.72" y1="471.8" x2="311.72" y2="469.8" stroke="#666" stroke-width="0.8"/>
<line x1="311.72" y1="313.9" x2="311.72" y2="315.9" stroke="#666" stroke-width="0.8"/>
<line x1="316.50" y1="471.8" x2="316.50" y2="469.8" stroke="#666" stroke-width="0.8"/>
<line x1="316.50" y1="313.9" x2="316.50" y2="315.9" stroke="#666" stroke-width="0.8"/>
<line x1="320.71" y1="471.8" x2="320.71" y2="469.8" stroke="#666" stroke-width="0.8"/>
<line x1="320.71" y1="313.9" x2="320.71" y2="315.9" stroke="#666" stroke-width="0.8"/>
<line x1="324.48" y1="471.8" x2="324.48" y2="468.3" stroke="#555" stroke-width="1"/>
<line x1="324.48" y1="313.9" x2="324.48" y2="317.4" stroke="#555" stroke-width="1"/>
<line x1="349.27" y1="471.8" x2="349.27" y2="469.8" stroke="#666" stroke-width="0.8"/>
<line x1="349.27" y1="313.9" x2="349.27" y2="315.9" stroke="#666" stroke-width="0.8"/>
<line x1="363.78" y1="471.8" x2="363.78" y2="469.8" stroke="#666" stroke-width="0.8"/>
<line x1="363.78" y1="313.9" x2="363.78" y2="315.9" stroke="#666" stroke-width="0.8"/>
<line x1="374.07" y1="471.8" x2="374.07" y2="469.8" stroke="#666" stroke-width="0.8"/>
<line x1="374.07" y1="313.9" x2="374.07" y2="315.9" stroke="#666" stroke-width="0.8"/>
<line x1="382.05" y1="471.8" x2="382.05" y2="469.8" stroke="#666" stroke-width="0.8"/>
<line x1="382.05" y1="313.9" x2="382.05" y2="315.9" stroke="#666" stroke-width="0.8"/>
<line x1="388.57" y1="471.8" x2="388.57" y2="469.8" stroke="#666" stroke-width="0.8"/>
<line x1="388.57" y1="313.9" x2="388.57" y2="315.9" stroke="#666" stroke-width="0.8"/>
<line x1="394.08" y1="471.8" x2="394.08" y2="469.8" stroke="#666" stroke-width="0.8"/>
<line x1="394.08" y1="313.9" x2="394.08" y2="315.9" stroke="#666" stroke-width="0.8"/>
<line x1="398.86" y1="471.8" x2="398.86" y2="469.8" stroke="#666" stroke-width="0.8"/>
<line x1="398.86" y1="313.9" x2="398.86" y2="315.9" stroke="#666" stroke-width="0.8"/>
<line x1="403.07" y1="471.8" x2="403.07" y2="469.8" stroke="#666" stroke-width="0.8"/>
<line x1="403.07" y1="313.9" x2="403.07" y2="315.9" stroke="#666" stroke-width="0.8"/>
<line x1="406.84" y1="471.8" x2="406.84" y2="468.3" stroke="#555" stroke-width="1"/>
<line x1="406.84" y1="313.9" x2="406.84" y2="317.4" stroke="#555" stroke-width="1"/>
<line x1="431.63" y1="471.8" x2="431.63" y2="469.8" stroke="#666" stroke-width="0.8"/>
<line x1="431.63" y1="313.9" x2="431.63" y2="315.9" stroke="#666" stroke-width="0.8"/>
<line x1="446.14" y1="471.8" x2="446.14" y2="469.8" stroke="#666" stroke-width="0.8"/>
<line x1="446.14" y1="313.9" x2="446.14" y2="315.9" stroke="#666" stroke-width="0.8"/>
<line x1="456.43" y1="471.8" x2="456.43" y2="469.8" stroke="#666" stroke-width="0.8"/>
<line x1="456.43" y1="313.9" x2="456.43" y2="315.9" stroke="#666" stroke-width="0.8"/>
<line x1="464.41" y1="471.8" x2="464.41" y2="469.8" stroke="#666" stroke-width="0.8"/>
<line x1="464.41" y1="313.9" x2="464.41" y2="315.9" stroke="#666" stroke-width="0.8"/>
<line x1="470.93" y1="471.8" x2="470.93" y2="469.8" stroke="#666" stroke-width="0.8"/>
<line x1="470.93" y1="313.9" x2="470.93" y2="315.9" stroke="#666" stroke-width="0.8"/>
<line x1="476.44" y1="471.8" x2="476.44" y2="469.8" stroke="#666" stroke-width="0.8"/>
<line x1="476.44" y1="313.9" x2="476.44" y2="315.9" stroke="#666" stroke-width="0.8"/>
<line x1="481.22" y1="471.8" x2="481.22" y2="469.8" stroke="#666" stroke-width="0.8"/>
<line x1="481.22" y1="313.9" x2="481.22" y2="315.9" stroke="#666" stroke-width="0.8"/>
<line x1="485.43" y1="471.8" x2="485.43" y2="469.8" stroke="#666" stroke-width="0.8"/>
<line x1="485.43" y1="313.9" x2="485.43" y2="315.9" stroke="#666" stroke-width="0.8"/>
<line x1="489.20" y1="471.8" x2="489.20" y2="468.3" stroke="#555" stroke-width="1"/>
<line x1="489.20" y1="313.9" x2="489.20" y2="317.4" stroke="#555" stroke-width="1"/>
<text x="77.40" y="499.8" class="tl" text-anchor="middle">10<tspan class="sup" dy="-9.3">-1</tspan></text>
<text x="159.76" y="499.8" class="tl" text-anchor="middle">10<tspan class="sup" dy="-9.3">0</tspan></text>
<text x="242.12" y="499.8" class="tl" text-anchor="middle">10<tspan class="sup" dy="-9.3">1</tspan></text>
<text x="324.48" y="499.8" class="tl" text-anchor="middle">10<tspan class="sup" dy="-9.3">2</tspan></text>
<text x="406.84" y="499.8" class="tl" text-anchor="middle">10<tspan class="sup" dy="-9.3">3</tspan></text>
<text x="489.20" y="499.8" class="tl" text-anchor="middle">10<tspan class="sup" dy="-9.3">4</tspan></text>
<text transform="translate(364.10,331.20) scale(1.12,1)" class="g">τ</text>
<text transform="translate(372.70,337.60) scale(1.3,1)" class="gs">α</text>
<text x="70.8" y="462" class="pl">(b)</text>
<text x="99.0" y="462.4" class="pl it">T</text>
<text x="113.1" y="463.8" class="pl">=</text>
<text x="129.3" y="462" class="pl">0.50</text>
<text x="281.3" y="518.2" class="tlab">t</text>
<text transform="translate(11.3,393) rotate(-90)" class="rho" text-anchor="middle">ρ</text>
<line x1="318.5" y1="535" x2="318.5" y2="692.1" stroke="#222" stroke-width="1.1" stroke-dasharray="1.3,2.98" stroke-dashoffset="-2.2"/>
<polyline points="84.4,541.8 107.5,541 159.9,553.1 212.7,575.1 265.4,578.1 318.5,588.1 370.6,617 423.7,648 476.3,666" fill="none" stroke="#c81420" stroke-width="1.7" stroke-linejoin="round"/>
<line x1="159.9" y1="550" x2="159.9" y2="556" stroke="#e01a1e" stroke-width="1"/>
<line x1="158.4" y1="550" x2="161.4" y2="550" stroke="#e01a1e" stroke-width="1"/>
<line x1="158.4" y1="556" x2="161.4" y2="556" stroke="#e01a1e" stroke-width="1"/>
<line x1="212.7" y1="571" x2="212.7" y2="579" stroke="#e01a1e" stroke-width="1"/>
<line x1="211.2" y1="571" x2="214.2" y2="571" stroke="#e01a1e" stroke-width="1"/>
<line x1="211.2" y1="579" x2="214.2" y2="579" stroke="#e01a1e" stroke-width="1"/>
<circle cx="84.4" cy="541.8" r="2.9" fill="#e01a1e"/>
<circle cx="107.5" cy="541" r="2.9" fill="#e01a1e"/>
<circle cx="159.9" cy="553.1" r="2.9" fill="#e01a1e"/>
<circle cx="212.7" cy="575.1" r="2.9" fill="#e01a1e"/>
<circle cx="265.4" cy="578.1" r="2.9" fill="#e01a1e"/>
<circle cx="318.5" cy="588.1" r="2.9" fill="#e01a1e"/>
<circle cx="370.6" cy="617" r="2.9" fill="#e01a1e"/>
<circle cx="423.7" cy="648" r="2.9" fill="#e01a1e"/>
<polyline points="84.4,568.2 107.5,597.5 159.9,613.1 212.7,604.6 265.4,603.2 318.5,607.3" fill="none" stroke="#1aa784" stroke-width="1.25" stroke-linejoin="round"/>
<line x1="84.4" y1="550.9" x2="84.4" y2="585.4" stroke="#1aa784" stroke-width="1"/>
<line x1="82.9" y1="550.9" x2="85.9" y2="550.9" stroke="#1aa784" stroke-width="1"/>
<line x1="82.9" y1="585.4" x2="85.9" y2="585.4" stroke="#1aa784" stroke-width="1"/>
<path d="M104.20,599.80 L110.80,599.80 L107.50,594.20 Z" fill="none" stroke="#1aa784" stroke-width="1.1"/>
<path d="M156.60,615.40 L163.20,615.40 L159.90,609.80 Z" fill="none" stroke="#1aa784" stroke-width="1.1"/>
<path d="M209.40,606.90 L216.00,606.90 L212.70,601.30 Z" fill="none" stroke="#1aa784" stroke-width="1.1"/>
<path d="M262.10,605.50 L268.70,605.50 L265.40,599.90 Z" fill="none" stroke="#1aa784" stroke-width="1.1"/>
<path d="M315.20,609.60 L321.80,609.60 L318.50,604.00 Z" fill="none" stroke="#1aa784" stroke-width="1.1"/>
<polyline points="84.4,573.8 107.5,607.9 159.9,603.1 212.7,594.2 265.4,593 318.5,597" fill="none" stroke="#9c30dc" stroke-width="1.25" stroke-linejoin="round"/>
<line x1="84.4" y1="567.8" x2="84.4" y2="579.9" stroke="#9c30dc" stroke-width="1"/>
<line x1="82.9" y1="567.8" x2="85.9" y2="567.8" stroke="#9c30dc" stroke-width="1"/>
<line x1="82.9" y1="579.9" x2="85.9" y2="579.9" stroke="#9c30dc" stroke-width="1"/>
<line x1="107.5" y1="602.4" x2="107.5" y2="613.4" stroke="#9c30dc" stroke-width="1"/>
<line x1="106.0" y1="602.4" x2="109.0" y2="602.4" stroke="#9c30dc" stroke-width="1"/>
<line x1="106.0" y1="613.4" x2="109.0" y2="613.4" stroke="#9c30dc" stroke-width="1"/>
<rect x="81.60" y="571.00" width="5.6" height="5.6" fill="none" stroke="#9c30dc" stroke-width="1.1"/>
<rect x="104.70" y="605.10" width="5.6" height="5.6" fill="none" stroke="#9c30dc" stroke-width="1.1"/>
<rect x="157.10" y="600.30" width="5.6" height="5.6" fill="none" stroke="#9c30dc" stroke-width="1.1"/>
<rect x="209.90" y="591.40" width="5.6" height="5.6" fill="none" stroke="#9c30dc" stroke-width="1.1"/>
<rect x="262.60" y="590.20" width="5.6" height="5.6" fill="none" stroke="#9c30dc" stroke-width="1.1"/>
<rect x="315.70" y="594.20" width="5.6" height="5.6" fill="none" stroke="#9c30dc" stroke-width="1.1"/>
<polyline points="84.4,569.2 107.5,592.3 159.9,624.9 212.7,616.9 265.4,610.1 318.5,612.7 370.6,631.5 423.7,652.6 476.3,666" fill="none" stroke="#000000" stroke-width="1.1" stroke-linejoin="round"/>
<line x1="84.4" y1="564.7" x2="84.4" y2="573.7" stroke="#000000" stroke-width="1"/>
<line x1="82.9" y1="564.7" x2="85.9" y2="564.7" stroke="#000000" stroke-width="1"/>
<line x1="82.9" y1="573.7" x2="85.9" y2="573.7" stroke="#000000" stroke-width="1"/>
<line x1="107.5" y1="584.1" x2="107.5" y2="600.5" stroke="#000000" stroke-width="1"/>
<line x1="106.0" y1="584.1" x2="109.0" y2="584.1" stroke="#000000" stroke-width="1"/>
<line x1="106.0" y1="600.5" x2="109.0" y2="600.5" stroke="#000000" stroke-width="1"/>
<circle cx="84.4" cy="569.2" r="2.7" fill="none" stroke="#000000" stroke-width="1.1"/>
<circle cx="107.5" cy="592.3" r="2.7" fill="none" stroke="#000000" stroke-width="1.1"/>
<circle cx="159.9" cy="624.9" r="2.7" fill="none" stroke="#000000" stroke-width="1.1"/>
<circle cx="212.7" cy="616.9" r="2.7" fill="none" stroke="#000000" stroke-width="1.1"/>
<circle cx="265.4" cy="610.1" r="2.7" fill="none" stroke="#000000" stroke-width="1.1"/>
<circle cx="318.5" cy="612.7" r="2.7" fill="none" stroke="#000000" stroke-width="1.1"/>
<circle cx="370.6" cy="631.5" r="2.7" fill="none" stroke="#000000" stroke-width="1.1"/>
<circle cx="423.7" cy="652.6" r="2.7" fill="none" stroke="#000000" stroke-width="1.1"/>
<circle cx="476.3" cy="666" r="2.7" fill="none" stroke="#000000" stroke-width="1.1"/>
<rect x="52.9" y="534" width="461.5" height="158.10000000000002" fill="none" stroke="#333" stroke-width="1.8"/>
<text transform="translate(41.60,698.70) scale(0.95,1)" class="tl" text-anchor="end">0</text>
<line x1="52.9" y1="660.48" x2="56.4" y2="660.48" stroke="#333" stroke-width="1"/>
<line x1="514.4" y1="660.48" x2="510.9" y2="660.48" stroke="#333" stroke-width="1"/>
<text transform="translate(41.60,667.08) scale(0.95,1)" class="tl" text-anchor="end">0.2</text>
<line x1="52.9" y1="628.86" x2="56.4" y2="628.86" stroke="#333" stroke-width="1"/>
<line x1="514.4" y1="628.86" x2="510.9" y2="628.86" stroke="#333" stroke-width="1"/>
<text transform="translate(41.60,635.46) scale(0.95,1)" class="tl" text-anchor="end">0.4</text>
<line x1="52.9" y1="597.24" x2="56.4" y2="597.24" stroke="#333" stroke-width="1"/>
<line x1="514.4" y1="597.24" x2="510.9" y2="597.24" stroke="#333" stroke-width="1"/>
<text transform="translate(41.60,603.84) scale(0.95,1)" class="tl" text-anchor="end">0.6</text>
<line x1="52.9" y1="565.62" x2="56.4" y2="565.62" stroke="#333" stroke-width="1"/>
<line x1="514.4" y1="565.62" x2="510.9" y2="565.62" stroke="#333" stroke-width="1"/>
<text transform="translate(41.60,572.22) scale(0.95,1)" class="tl" text-anchor="end">0.8</text>
<text transform="translate(41.60,540.60) scale(0.95,1)" class="tl" text-anchor="end">1</text>
<line x1="60.84" y1="692.1" x2="60.84" y2="690.1" stroke="#666" stroke-width="0.8"/>
<line x1="60.84" y1="534" x2="60.84" y2="536" stroke="#666" stroke-width="0.8"/>
<line x1="67.89" y1="692.1" x2="67.89" y2="690.1" stroke="#666" stroke-width="0.8"/>
<line x1="67.89" y1="534" x2="67.89" y2="536" stroke="#666" stroke-width="0.8"/>
<line x1="74.00" y1="692.1" x2="74.00" y2="690.1" stroke="#666" stroke-width="0.8"/>
<line x1="74.00" y1="534" x2="74.00" y2="536" stroke="#666" stroke-width="0.8"/>
<line x1="79.38" y1="692.1" x2="79.38" y2="690.1" stroke="#666" stroke-width="0.8"/>
<line x1="79.38" y1="534" x2="79.38" y2="536" stroke="#666" stroke-width="0.8"/>
<line x1="84.20" y1="692.1" x2="84.20" y2="688.6" stroke="#555" stroke-width="1"/>
<line x1="84.20" y1="534" x2="84.20" y2="537.5" stroke="#555" stroke-width="1"/>
<line x1="115.90" y1="692.1" x2="115.90" y2="690.1" stroke="#666" stroke-width="0.8"/>
<line x1="115.90" y1="534" x2="115.90" y2="536" stroke="#666" stroke-width="0.8"/>
<line x1="134.44" y1="692.1" x2="134.44" y2="690.1" stroke="#666" stroke-width="0.8"/>
<line x1="134.44" y1="534" x2="134.44" y2="536" stroke="#666" stroke-width="0.8"/>
<line x1="147.60" y1="692.1" x2="147.60" y2="690.1" stroke="#666" stroke-width="0.8"/>
<line x1="147.60" y1="534" x2="147.60" y2="536" stroke="#666" stroke-width="0.8"/>
<line x1="157.80" y1="692.1" x2="157.80" y2="690.1" stroke="#666" stroke-width="0.8"/>
<line x1="157.80" y1="534" x2="157.80" y2="536" stroke="#666" stroke-width="0.8"/>
<line x1="166.14" y1="692.1" x2="166.14" y2="690.1" stroke="#666" stroke-width="0.8"/>
<line x1="166.14" y1="534" x2="166.14" y2="536" stroke="#666" stroke-width="0.8"/>
<line x1="173.19" y1="692.1" x2="173.19" y2="690.1" stroke="#666" stroke-width="0.8"/>
<line x1="173.19" y1="534" x2="173.19" y2="536" stroke="#666" stroke-width="0.8"/>
<line x1="179.30" y1="692.1" x2="179.30" y2="690.1" stroke="#666" stroke-width="0.8"/>
<line x1="179.30" y1="534" x2="179.30" y2="536" stroke="#666" stroke-width="0.8"/>
<line x1="184.68" y1="692.1" x2="184.68" y2="690.1" stroke="#666" stroke-width="0.8"/>
<line x1="184.68" y1="534" x2="184.68" y2="536" stroke="#666" stroke-width="0.8"/>
<line x1="189.50" y1="692.1" x2="189.50" y2="688.6" stroke="#555" stroke-width="1"/>
<line x1="189.50" y1="534" x2="189.50" y2="537.5" stroke="#555" stroke-width="1"/>
<line x1="221.20" y1="692.1" x2="221.20" y2="690.1" stroke="#666" stroke-width="0.8"/>
<line x1="221.20" y1="534" x2="221.20" y2="536" stroke="#666" stroke-width="0.8"/>
<line x1="239.74" y1="692.1" x2="239.74" y2="690.1" stroke="#666" stroke-width="0.8"/>
<line x1="239.74" y1="534" x2="239.74" y2="536" stroke="#666" stroke-width="0.8"/>
<line x1="252.90" y1="692.1" x2="252.90" y2="690.1" stroke="#666" stroke-width="0.8"/>
<line x1="252.90" y1="534" x2="252.90" y2="536" stroke="#666" stroke-width="0.8"/>
<line x1="263.10" y1="692.1" x2="263.10" y2="690.1" stroke="#666" stroke-width="0.8"/>
<line x1="263.10" y1="534" x2="263.10" y2="536" stroke="#666" stroke-width="0.8"/>
<line x1="271.44" y1="692.1" x2="271.44" y2="690.1" stroke="#666" stroke-width="0.8"/>
<line x1="271.44" y1="534" x2="271.44" y2="536" stroke="#666" stroke-width="0.8"/>
<line x1="278.49" y1="692.1" x2="278.49" y2="690.1" stroke="#666" stroke-width="0.8"/>
<line x1="278.49" y1="534" x2="278.49" y2="536" stroke="#666" stroke-width="0.8"/>
<line x1="284.60" y1="692.1" x2="284.60" y2="690.1" stroke="#666" stroke-width="0.8"/>
<line x1="284.60" y1="534" x2="284.60" y2="536" stroke="#666" stroke-width="0.8"/>
<line x1="289.98" y1="692.1" x2="289.98" y2="690.1" stroke="#666" stroke-width="0.8"/>
<line x1="289.98" y1="534" x2="289.98" y2="536" stroke="#666" stroke-width="0.8"/>
<line x1="294.80" y1="692.1" x2="294.80" y2="688.6" stroke="#555" stroke-width="1"/>
<line x1="294.80" y1="534" x2="294.80" y2="537.5" stroke="#555" stroke-width="1"/>
<line x1="326.50" y1="692.1" x2="326.50" y2="690.1" stroke="#666" stroke-width="0.8"/>
<line x1="326.50" y1="534" x2="326.50" y2="536" stroke="#666" stroke-width="0.8"/>
<line x1="345.04" y1="692.1" x2="345.04" y2="690.1" stroke="#666" stroke-width="0.8"/>
<line x1="345.04" y1="534" x2="345.04" y2="536" stroke="#666" stroke-width="0.8"/>
<line x1="358.20" y1="692.1" x2="358.20" y2="690.1" stroke="#666" stroke-width="0.8"/>
<line x1="358.20" y1="534" x2="358.20" y2="536" stroke="#666" stroke-width="0.8"/>
<line x1="368.40" y1="692.1" x2="368.40" y2="690.1" stroke="#666" stroke-width="0.8"/>
<line x1="368.40" y1="534" x2="368.40" y2="536" stroke="#666" stroke-width="0.8"/>
<line x1="376.74" y1="692.1" x2="376.74" y2="690.1" stroke="#666" stroke-width="0.8"/>
<line x1="376.74" y1="534" x2="376.74" y2="536" stroke="#666" stroke-width="0.8"/>
<line x1="383.79" y1="692.1" x2="383.79" y2="690.1" stroke="#666" stroke-width="0.8"/>
<line x1="383.79" y1="534" x2="383.79" y2="536" stroke="#666" stroke-width="0.8"/>
<line x1="389.90" y1="692.1" x2="389.90" y2="690.1" stroke="#666" stroke-width="0.8"/>
<line x1="389.90" y1="534" x2="389.90" y2="536" stroke="#666" stroke-width="0.8"/>
<line x1="395.28" y1="692.1" x2="395.28" y2="690.1" stroke="#666" stroke-width="0.8"/>
<line x1="395.28" y1="534" x2="395.28" y2="536" stroke="#666" stroke-width="0.8"/>
<line x1="400.10" y1="692.1" x2="400.10" y2="688.6" stroke="#555" stroke-width="1"/>
<line x1="400.10" y1="534" x2="400.10" y2="537.5" stroke="#555" stroke-width="1"/>
<line x1="431.80" y1="692.1" x2="431.80" y2="690.1" stroke="#666" stroke-width="0.8"/>
<line x1="431.80" y1="534" x2="431.80" y2="536" stroke="#666" stroke-width="0.8"/>
<line x1="450.34" y1="692.1" x2="450.34" y2="690.1" stroke="#666" stroke-width="0.8"/>
<line x1="450.34" y1="534" x2="450.34" y2="536" stroke="#666" stroke-width="0.8"/>
<line x1="463.50" y1="692.1" x2="463.50" y2="690.1" stroke="#666" stroke-width="0.8"/>
<line x1="463.50" y1="534" x2="463.50" y2="536" stroke="#666" stroke-width="0.8"/>
<line x1="473.70" y1="692.1" x2="473.70" y2="690.1" stroke="#666" stroke-width="0.8"/>
<line x1="473.70" y1="534" x2="473.70" y2="536" stroke="#666" stroke-width="0.8"/>
<line x1="482.04" y1="692.1" x2="482.04" y2="690.1" stroke="#666" stroke-width="0.8"/>
<line x1="482.04" y1="534" x2="482.04" y2="536" stroke="#666" stroke-width="0.8"/>
<line x1="489.09" y1="692.1" x2="489.09" y2="690.1" stroke="#666" stroke-width="0.8"/>
<line x1="489.09" y1="534" x2="489.09" y2="536" stroke="#666" stroke-width="0.8"/>
<line x1="495.20" y1="692.1" x2="495.20" y2="690.1" stroke="#666" stroke-width="0.8"/>
<line x1="495.20" y1="534" x2="495.20" y2="536" stroke="#666" stroke-width="0.8"/>
<line x1="500.58" y1="692.1" x2="500.58" y2="690.1" stroke="#666" stroke-width="0.8"/>
<line x1="500.58" y1="534" x2="500.58" y2="536" stroke="#666" stroke-width="0.8"/>
<line x1="505.40" y1="692.1" x2="505.40" y2="688.6" stroke="#555" stroke-width="1"/>
<line x1="505.40" y1="534" x2="505.40" y2="537.5" stroke="#555" stroke-width="1"/>
<text x="84.20" y="720.0" class="tl" text-anchor="middle">10<tspan class="sup" dy="-9.3">-1</tspan></text>
<text x="189.50" y="720.0" class="tl" text-anchor="middle">10<tspan class="sup" dy="-9.3">0</tspan></text>
<text x="294.80" y="720.0" class="tl" text-anchor="middle">10<tspan class="sup" dy="-9.3">1</tspan></text>
<text x="400.10" y="720.0" class="tl" text-anchor="middle">10<tspan class="sup" dy="-9.3">2</tspan></text>
<text x="505.40" y="720.0" class="tl" text-anchor="middle">10<tspan class="sup" dy="-9.3">3</tspan></text>
<text transform="translate(327.10,551.20) scale(1.12,1)" class="g">τ</text>
<text transform="translate(335.70,557.60) scale(1.3,1)" class="gs">α</text>
<text x="71.2" y="682" class="pl">(c)</text>
<text x="98.0" y="682.4" class="pl it">T</text>
<text x="113.39999999999999" y="683.8" class="pl">=</text>
<text x="129.0" y="682" class="pl">0.64</text>
<text x="281.3" y="738.1" class="tlab">t</text>
<text transform="translate(11.3,613) rotate(-90)" class="rho" text-anchor="middle">ρ</text>
</svg>
</body></html>
